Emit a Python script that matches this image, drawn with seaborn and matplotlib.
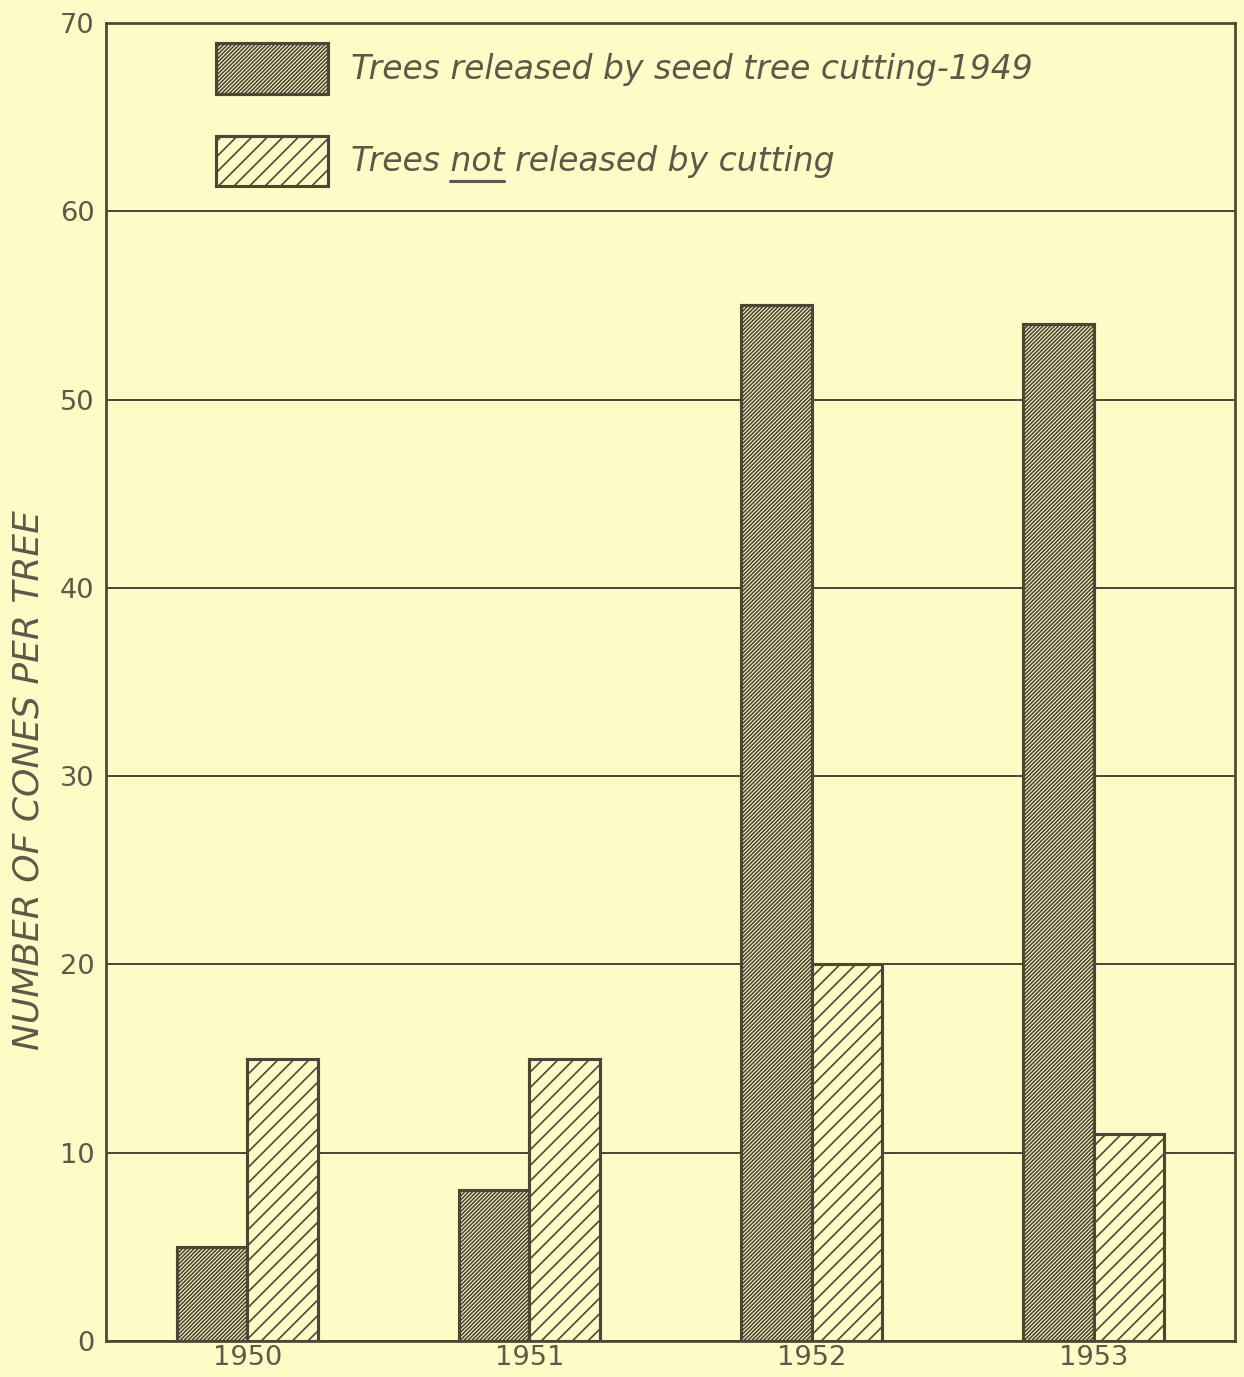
import matplotlib
matplotlib.use("Agg")
import matplotlib.pyplot as plt
from matplotlib.patches import Patch
from matplotlib.lines import Line2D
import seaborn as sns
import pandas as pd

# Cone production per tree, by year and release treatment
years = ["1950", "1951", "1952", "1953"]
released = [5, 8, 55, 54]
not_released = [15, 15, 20, 11]
group_labels = ["Trees released by seed tree cutting-1949",
                "Trees not released by cutting"]
y_ticks = [0, 10, 20, 30, 40, 50, 60, 70]

BG = "#fdfcc6"
INK = "#4d4535"
TEXT = "#5f5848"
DPI = 140

sns.set_theme(style="white")
plt.rcParams["font.family"] = ["DejaVu Sans"]
plt.rcParams["hatch.color"] = INK
plt.rcParams["hatch.linewidth"] = 0.85

df = pd.DataFrame({
    "year": years * 2,
    "cones": released + not_released,
    "group": [group_labels[0]] * len(years) + [group_labels[1]] * len(years),
})

fig = plt.figure(figsize=(1244 / DPI, 1377 / DPI), dpi=DPI, facecolor=BG)
ax = fig.add_axes([106 / 1244, 36 / 1377, 1129 / 1244, 1318 / 1377])
ax.set_facecolor(BG)

sns.barplot(data=df, x="year", y="cones", hue="group", order=years,
            hue_order=group_labels, palette=[BG, BG], width=0.5,
            saturation=1, edgecolor=INK, linewidth=1.6, ax=ax, zorder=3)

# dense fine hatching for released trees, open hatching for the others
hatches = ["////////////", "///"]
for cont, h in zip(ax.containers, hatches):
    for bar in cont:
        bar.set_hatch(h)
        bar.set_edgecolor(INK)
        bar.set_facecolor(BG)

ax.set_ylim(0, 70)
ax.set_xlim(-0.5, 3.5)
ax.set_yticks(y_ticks)
ax.set_yticklabels([str(v) for v in y_ticks])
ax.yaxis.grid(True, color=INK, linewidth=1.0, zorder=0)
ax.xaxis.grid(False)
ax.set_axisbelow(True)
for s in ax.spines.values():
    s.set_visible(True)
    s.set_color(INK)
    s.set_linewidth(1.4)
ax.tick_params(axis="y", length=0, pad=6, labelsize=14, labelcolor=TEXT)
ax.tick_params(axis="x", length=0, pad=2, labelsize=14, labelcolor=TEXT)
ax.set_xlabel("")
ax.set_ylabel("NUMBER OF CONES PER TREE", fontsize=18.5, color=TEXT,
              style="italic")
ax.yaxis.set_label_coords(-60 / 1129, (1341 - 780) / 1318)

# Legend in the upper-left of the plotting area
handles = [Patch(facecolor=BG, edgecolor=INK, hatch=h, linewidth=1.6)
           for h in hatches]
fs = 17
leg = ax.legend(handles, group_labels, loc="upper left",
                bbox_to_anchor=(110 / 1129, 1 - 20 / 1318),
                frameon=False, handlelength=3.4, handleheight=1.99,
                handletextpad=0.68, labelspacing=1.26, borderpad=0,
                borderaxespad=0, prop={"style": "italic", "size": fs})
for t in leg.get_texts():
    t.set_color(TEXT)

# Underline the word "not" in the second legend entry
fig.canvas.draw()
renderer = fig.canvas.get_renderer()
lab = leg.get_texts()[1]
bb = lab.get_window_extent(renderer)
probe = fig.text(0, 0, "Trees ", fontsize=fs, style="italic")
w_pre = probe.get_window_extent(renderer).width
probe.set_text("Trees not")
w_not = probe.get_window_extent(renderer).width
probe.remove()
y_line = bb.y0 - 3
x0 = bb.x0 + w_pre
x1 = bb.x0 + w_not
inv = fig.transFigure.inverted()
(fx0, fy), (fx1, _) = inv.transform([(x0, y_line), (x1, y_line)])
fig.add_artist(Line2D([fx0, fx1], [fy, fy], color=TEXT, linewidth=1.6))

fig.savefig("out.png", dpi=DPI, facecolor=BG)
